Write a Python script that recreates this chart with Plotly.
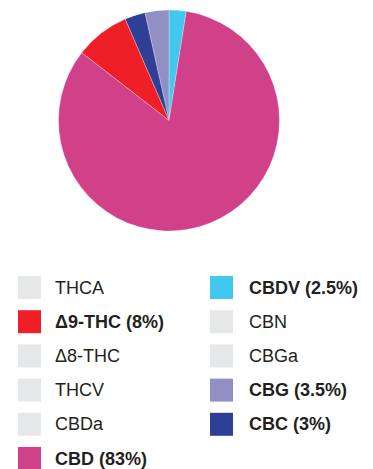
import plotly.graph_objects as go

# Cannabinoid profile (share of total, %)
pie_labels = ["CBDV", "CBG", "CBC", "Δ9-THC", "CBD"]
pie_values = [2.5, 3.5, 3, 8, 83]
pie_colors = ["#41C8EE", "#9290C3", "#2E3F95", "#EE1F27", "#D1418A"]

# Legend columns (0 = not detected)
left_names = ["THCA", "Δ9-THC", "Δ8-THC", "THCV", "CBDa", "CBD"]
left_values = [0, 8, 0, 0, 0, 83]
right_names = ["CBDV", "CBN", "CBGa", "CBG", "CBC"]
right_values = [2.5, 0, 0, 3.5, 3]

GREY = "#E6E7E8"
TEXT = "#231F20"
W, H = 373, 469

color_of = dict(zip(pie_labels, pie_colors))

fig = go.Figure()

fig.add_trace(go.Pie(
    labels=pie_labels,
    values=pie_values,
    marker=dict(colors=pie_colors, line=dict(color="rgba(255,255,255,0.55)", width=0.5)),
    sort=False,
    direction="counterclockwise",
    rotation=0,
    textinfo="none",
    showlegend=False,
    domain=dict(x=[58 / W, 280 / W], y=[1 - 231 / H, 1 - 10 / H]),
))

# Legend drawn as square markers on a pixel-scaled hidden axis
row_y0, row_step = 287.5, 34.2
sq_x = {"left": 29.5, "right": 221.5}
txt_x = {"left": 53, "right": 247}

mx, my, mc = [], [], []
annotations = []
for col, names, vals in (("left", left_names, left_values),
                         ("right", right_names, right_values)):
    for i, (n, v) in enumerate(zip(names, vals)):
        y = row_y0 + i * row_step
        mx.append(sq_x[col])
        my.append(y)
        mc.append(color_of[n] if v > 0 else GREY)
        label = f"<b>{n} ({v:g}%)</b>" if v > 0 else n
        annotations.append(dict(
            x=txt_x[col], y=y, xref="x", yref="y", text=label,
            showarrow=False, xanchor="left", yanchor="middle",
            font=dict(family="Liberation Sans, Arial, sans-serif", size=18, color=TEXT),
        ))

fig.add_trace(go.Scatter(
    x=mx, y=my, mode="markers",
    marker=dict(symbol="square", size=23, color=mc, line=dict(width=0)),
    showlegend=False, hoverinfo="skip",
))

fig.update_layout(
    width=W, height=H,
    margin=dict(l=0, r=0, t=0, b=0),
    paper_bgcolor="#FFFFFF", plot_bgcolor="#FFFFFF",
    xaxis=dict(range=[0, W], visible=False, domain=[0, 1], fixedrange=True),
    yaxis=dict(range=[H, 0], visible=False, domain=[0, 1], fixedrange=True),
    annotations=annotations,
)

fig.write_html("out.html")
